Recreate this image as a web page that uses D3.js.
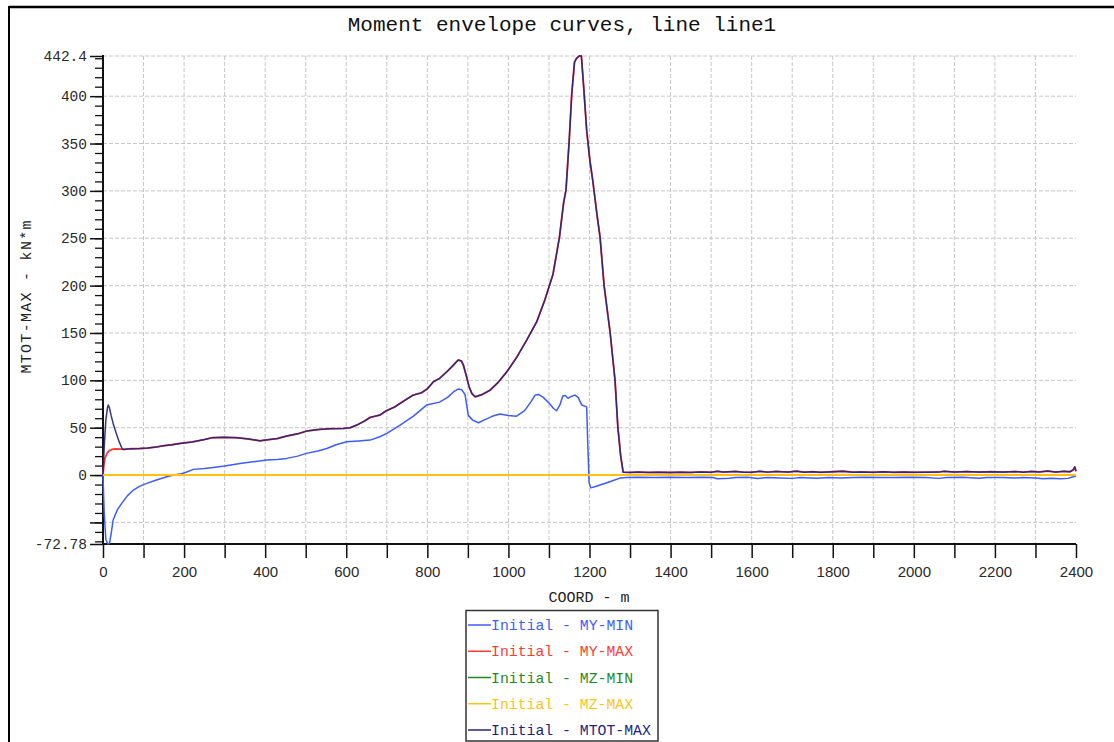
<!DOCTYPE html>
<html>
<head>
<meta charset="utf-8">
<script src="https://cdn.jsdelivr.net/npm/d3@7"></script>
<style>
  html, body { margin: 0; padding: 0; background: #fff; }
  svg { display: block; }
</style>
</head>
<body>
<svg id="chart" width="1114" height="742"></svg>
<script>
// ---- data: [coord (m), moment (kN*m)] ----
const myMin = [
  [0,0],[3,-40],[7,-68],[12,-72.78],[16,-72],[20,-62],[25,-47.5],[35,-37],[46,-29.9],[60,-22],
  [75,-15.8],[90,-12],[108,-8.8],[130,-5.5],[157,-1.8],[175,0],[190,1],[205,3],[223,6],[250,7],
  [272,8.1],[300,9.5],[338,12.3],[370,14],[404,15.8],[430,16.5],[453,17.6],[480,20],[502,22.9],
  [530,25.5],[552,28.1],[575,32],[601,35.2],[630,36],[659,36.9],[683,40.4],[700,44],[730,52],
  [765,62],[798,73.9],[830,77],[850,82],[865,88],[876,90.8],[885,90],[893,85],[901,63],[912,58],
  [926,55.2],[945,59],[960,62],[979,64.4],[1000,63],[1020,62.2],[1040,68],[1055,77],[1066,84.4],
  [1075,85],[1086,82],[1100,76],[1112,70],[1119,67.9],[1127,74],[1134,83.4],[1140,84],[1147,81],
  [1155,83],[1164,84.4],[1172,82],[1181,73.9],[1190,72.5],[1193,72],[1196,30],[1199,-8],
  [1203,-13.5],[1215,-12],[1226,-10.5],[1250,-7],[1275,-3.2],[1292,-2.5],[1320,-2.3],[1360,-2.5],
  [1400,-2.2],[1440,-2.5],[1480,-2.3],[1505,-2.6],[1515,-3.8],[1545,-3.3],[1560,-2.6],[1590,-2.4],
  [1615,-3.6],[1640,-2.5],[1670,-3.0],[1700,-3.5],[1720,-2.6],[1760,-3.4],[1790,-2.5],[1820,-3.2],
  [1850,-2.6],[1880,-2.4],[1920,-2.6],[1950,-2.5],[1990,-2.3],[2030,-2.6],[2060,-3.5],[2080,-2.5],
  [2120,-2.4],[2160,-3.3],[2180,-2.5],[2220,-2.6],[2250,-3.2],[2270,-2.5],[2300,-3.0],[2320,-3.8],
  [2340,-3.4],[2360,-3.9],[2380,-3.5],[2395,-1.5],[2400,-1]
];

const mtotMax = [
  [0,0],[3,30],[7,58],[11,71],[13,73.9],[16,71],[20,63],[25,54.5],[32,45],[40,35],[47,28],
  [50,27.1],[70,27.8],[90,28],[110,28.5],[130,29.5],[150,31],[170,32],[190,33.4],[220,35],
  [250,37.5],[270,39.5],[297,39.8],[330,39.5],[360,38],[387,36.2],[410,37.5],[430,38.5],
  [453,41.2],[480,43.5],[502,46.4],[530,48],[560,49],[593,49.2],[610,50],[626,52.8],[645,57],
  [659,60.9],[683,63.3],[699,67.9],[720,72],[745,79],[765,84.4],[786,86.9],[800,91],[815,98.5],
  [830,102],[848,109],[862,115],[876,121.4],[884,120.5],[889,116],[896,105],[903,93.2],[910,86],
  [918,82.6],[935,85],[955,89.7],[975,98],[996,109],[1020,124],[1045,142.5],[1070,162],
  [1090,185],[1110,212],[1126,251.5],[1136,287],[1142,300.8],[1150,353.6],[1156,401],[1163,436],
  [1168,440],[1175,442.4],[1180,442.4],[1185,413.7],[1193,364],[1201,332],[1208,311],[1219,273],
  [1226,251.5],[1236,200],[1251,150],[1263,100],[1270,50],[1277,20],[1283,3],[1300,2.8],
  [1320,3.2],[1345,2.8],[1370,3.0],[1400,2.7],[1425,3.0],[1450,2.8],[1475,3.3],[1500,2.9],
  [1515,4.0],[1530,3.2],[1560,3.8],[1580,3.0],[1600,2.9],[1620,3.9],[1640,3.1],[1660,3.8],
  [1690,3.2],[1710,4.1],[1730,3.0],[1750,3.6],[1770,2.9],[1800,3.5],[1825,4.0],[1850,3.0],
  [1870,3.3],[1900,2.9],[1925,3.4],[1950,2.9],[1975,3.2],[2000,2.9],[2030,3.0],[2060,3.1],
  [2075,3.9],[2100,3.2],[2130,3.7],[2160,3.1],[2190,3.6],[2220,3.2],[2250,3.7],[2270,3.0],
  [2290,3.8],[2310,3.3],[2330,4.2],[2350,3.2],[2370,3.9],[2385,3.5],[2393,5.5],[2397,8.5],[2400,4]
];

// MY-MAX: own rise near the support, then coincides with MTOT-MAX
const myMaxStart = [[0,0],[2,10],[5,18],[10,23],[15,25.5],[22,27],[30,27.5],[45,27.4]];
const myMax = myMaxStart.concat(mtotMax.filter(d => d[0] >= 50));

const mzMin = [[0,0],[2400,0]];
const mzMax = [[0,0],[2400,0]];

const xTicks = d3.range(0, 2401, 100);
const xLabels = d3.range(0, 2401, 200);
const yMajor = [-50, 0, 50, 100, 150, 200, 250, 300, 350, 400];
const yLabels = ["0", "50", "100", "150", "200", "250", "300", "350", "400"];
const yMinor = d3.range(-70, 441, 10);
const yDomain = [-72.78, 442.4];

const seriesNames = ["Initial - MY-MIN", "Initial - MY-MAX", "Initial - MZ-MIN", "Initial - MZ-MAX", "Initial - MTOT-MAX"];
const seriesColors = ["#3d5cff", "#ff3b30", "#1f8a22", "#ffc20e", "#24247e"];

// ---- drawing ----
const svg = d3.select("#chart");
const x = d3.scaleLinear().domain([0, 2400]).range([103, 1076]);
const y = d3.scaleLinear().domain(yDomain).range([544, 56]);
const mono = "'Liberation Mono', 'DejaVu Sans Mono', monospace";
const sans = "'Liberation Sans', Arial, sans-serif";

// window frame
svg.append("line").attr("x1", 9).attr("x2", 1114).attr("y1", 7).attr("y2", 7)
  .attr("stroke", "#000").attr("stroke-width", 2.5);
svg.append("line").attr("x1", 9).attr("x2", 9).attr("y1", 6).attr("y2", 742)
  .attr("stroke", "#000").attr("stroke-width", 2);

// title
svg.append("text").attr("x", 562).attr("y", 31).attr("text-anchor", "middle")
  .attr("font-family", mono).attr("font-size", 21).attr("fill", "#111")
  .text("Moment envelope curves, line line1");

// grid
const grid = svg.append("g").attr("stroke", "#c6c6c6").attr("stroke-width", 1)
  .attr("stroke-dasharray", "4,2").attr("fill", "none");
xTicks.filter(v => v > 0 && v < 2400).forEach(v => {
  grid.append("line").attr("x1", x(v)).attr("x2", x(v)).attr("y1", y(yDomain[1])).attr("y2", y(yDomain[0]));
});
yMajor.concat([yDomain[1]]).forEach(v => {
  grid.append("line").attr("x1", x(0)).attr("x2", x(2400)).attr("y1", y(v)).attr("y2", y(v));
});

// y axis: minor ticks, then major ticks with labels
const yMinorAxis = d3.axisLeft(y).tickValues(yMinor).tickSize(8).tickFormat("");
const gYm = svg.append("g").attr("transform", `translate(${x(0)},0)`).call(yMinorAxis);
gYm.select(".domain").remove();
gYm.selectAll(".tick line").attr("stroke", "#111").attr("stroke-width", 1.3);

const yAxis = d3.axisLeft(y).tickValues(yMajor.concat(yDomain)).tickSize(13).tickPadding(3)
  .tickFormat(v => v === yDomain[0] ? "-72.78" : v === yDomain[1] ? "442.4" :
    (yLabels.includes(String(v)) ? String(v) : ""));
const gY = svg.append("g").attr("transform", `translate(${x(0)},0)`).call(yAxis);
gY.select(".domain").remove();
gY.selectAll(".tick line").attr("stroke", "#111").attr("stroke-width", 1.5);
gY.selectAll(".tick text").attr("font-family", mono).attr("font-size", 14.5).attr("fill", "#2a2a2a");

// x axis
const xAxis = d3.axisBottom(x).tickValues(xTicks).tickSize(14).tickPadding(8)
  .tickFormat(v => xLabels.includes(v) ? String(v) : "");
const gX = svg.append("g").attr("transform", `translate(0,${y(yDomain[0])})`).call(xAxis);
gX.select(".domain").remove();
gX.selectAll(".tick line").attr("stroke", "#111").attr("stroke-width", 1.5);
gX.selectAll(".tick text").attr("font-family", sans).attr("font-size", 15).attr("fill", "#2a2a2a");

// axis lines
svg.append("line").attr("x1", x(0)).attr("x2", x(0)).attr("y1", y(yDomain[1]) - 1).attr("y2", y(yDomain[0]) + 1)
  .attr("stroke", "#111").attr("stroke-width", 2);
svg.append("line").attr("x1", x(0) - 1).attr("x2", x(2400)).attr("y1", y(yDomain[0])).attr("y2", y(yDomain[0]))
  .attr("stroke", "#111").attr("stroke-width", 2);

// axis titles
svg.append("text").attr("x", 589).attr("y", 602).attr("text-anchor", "middle")
  .attr("font-family", mono).attr("font-size", 15).attr("fill", "#222").text("COORD - m");
svg.append("text").attr("transform", "translate(31,297) rotate(-90)").attr("text-anchor", "middle")
  .attr("font-family", mono).attr("font-size", 15).attr("fill", "#222")
  .attr("textLength", 153).attr("lengthAdjust", "spacing").text("MTOT-MAX - kN*m");

// curves
const line = d3.line().x(d => x(d[0])).y(d => y(d[1]));
const plot = svg.append("g").attr("fill", "none").attr("stroke-linejoin", "round");
plot.append("path").datum(mzMin).attr("d", line).attr("stroke", seriesColors[2]).attr("stroke-width", 2);
plot.append("path").datum(myMin).attr("d", line).attr("stroke", seriesColors[0]).attr("stroke-width", 1.5);
plot.append("path").datum(myMax).attr("d", line).attr("stroke", seriesColors[1]).attr("stroke-width", 1.8);
plot.append("path").datum(mtotMax).attr("d", line).attr("stroke", seriesColors[4]).attr("stroke-width", 1.5)
  .attr("stroke-opacity", 0.92);
plot.append("path").datum(mzMax).attr("d", line).attr("stroke", seriesColors[3]).attr("stroke-width", 2);

// legend
const lg = svg.append("g");
lg.append("rect").attr("x", 466).attr("y", 610.5).attr("width", 192).attr("height", 130.5)
  .attr("fill", "#fff").attr("stroke", "#333").attr("stroke-width", 1.5);
const rowY = d3.scaleLinear().domain([0, 4]).range([625, 730]);
seriesNames.forEach((name, i) => {
  lg.append("line").attr("x1", 468).attr("x2", 491).attr("y1", rowY(i)).attr("y2", rowY(i))
    .attr("stroke", seriesColors[i]).attr("stroke-width", 1.5);
  lg.append("text").attr("x", 491).attr("y", rowY(i) + 5).attr("font-family", mono)
    .attr("font-size", 14.8).attr("fill", seriesColors[i]).text(name);
});
</script>
</body>
</html>
